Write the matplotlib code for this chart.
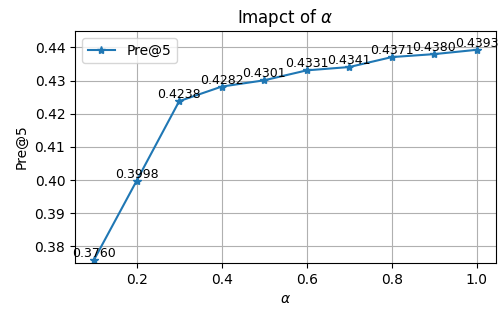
import matplotlib
matplotlib.use("Agg")
import matplotlib.pyplot as plt

alphas = [0.1, 0.2, 0.3, 0.4, 0.5, 0.6, 0.7, 0.8, 0.9, 1.0]
pre5 = [0.3760, 0.3998, 0.4238, 0.4282, 0.4301, 0.4331, 0.4341, 0.4371, 0.4380, 0.4393]

fig, ax = plt.subplots(figsize=(5, 3.09), dpi=100)
ax.plot(alphas, pre5, marker='*', label='Pre@5')
for x, y in zip(alphas, pre5):
    ax.text(x, y, f'{y:.4f}', ha='center', va='bottom', fontsize=9)
ax.set_ylim(0.375, 0.445)
ax.set_title(r'Imapct of $\alpha$')
ax.set_xlabel(r'$\alpha$')
ax.set_ylabel('Pre@5')
ax.grid(True)
ax.legend(loc='upper left')
fig.subplots_adjust(left=0.15, right=0.992, top=0.9, bottom=0.149)
fig.savefig('out.png')
